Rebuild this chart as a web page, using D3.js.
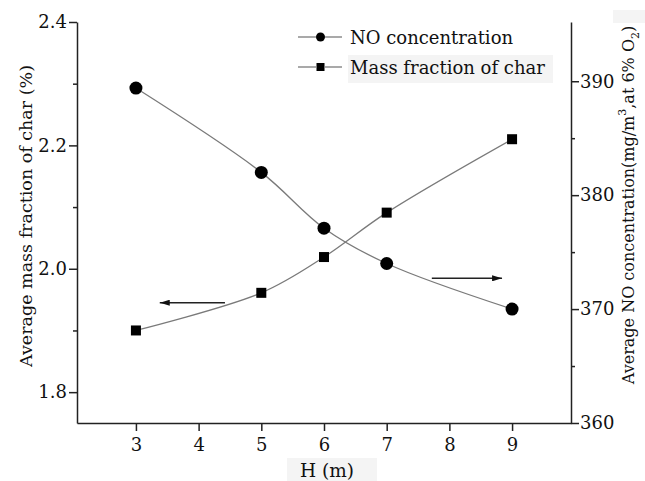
<!DOCTYPE html>
<html lang="en">
<head>
    <meta charset="UTF-8">
    <title>NO concentration and char vs H</title>
    <script src="https://d3js.org/d3.v7.min.js"></script>
    <style>
        body {
            margin: 0;
            background: #fff;
        }
        .axis path,
        .axis line {
            fill: none;
            stroke: #222;
            stroke-width: 1.5px;
        }
        .axis text {
            font-size: 18px;
            fill: #111;
        }
        .title {
            font-size: 17.5px;
            fill: #111;
        }
    </style>
</head>
<body>
<svg id="chart"></svg>

<script>
    // values
    const heights = [3, 5, 6, 7, 9];
    const noConc = [389.4, 382.0, 377.1, 374.0, 370.0];       // right axis
    const charFrac = [1.900, 1.961, 2.019, 2.091, 2.210];     // left axis
    const xTicks = [3, 4, 5, 6, 7, 8, 9];
    const leftTicks = [1.8, 2.0, 2.2, 2.4];
    const leftMinor = [1.9, 2.1, 2.3];
    const rightTicks = [360, 370, 380, 390];
    const rightMinor = [365, 375, 385];
    // arrows pointing to the axis each curve belongs to: [x from, x to, y]
    const charArrow = [4.42, 3.38, 1.945];
    const noArrow = [7.72, 8.84, 372.7];

    const W = 645, H = 481;
    const margin = { top: 22, right: 74, bottom: 58, left: 77 };
    const width = W - margin.left - margin.right;
    const height = H - margin.top - margin.bottom;
    const serif = '"DejaVu Serif", "Liberation Serif", "Times New Roman", serif';

    const svg = d3.select("#chart")
        .attr("width", W)
        .attr("height", H)
        .style("font-family", serif);

    const defs = svg.append("defs");
    defs.append("marker")
        .attr("id", "head")
        .attr("viewBox", "0 0 10 6")
        .attr("refX", 10)
        .attr("refY", 3)
        .attr("markerWidth", 10)
        .attr("markerHeight", 6)
        .attr("markerUnits", "userSpaceOnUse")
        .attr("orient", "auto")
        .append("path")
        .attr("d", "M0,0 L10,3 L0,6 Z")
        .attr("fill", "#111");

    // faint scan patches of the original figure
    svg.append("rect").attr("x", 348).attr("y", 55).attr("width", 205).attr("height", 28).attr("fill", "#f4f4f4");
    svg.append("rect").attr("x", 613).attr("y", 10).attr("width", 32).attr("height", 13).attr("fill", "#f4f4f4");
    svg.append("rect").attr("x", 287).attr("y", 458).attr("width", 90).attr("height", 23).attr("fill", "#f4f4f4");

    const g = svg.append("g")
        .attr("transform", `translate(${margin.left},${margin.top})`);

    const x = d3.scaleLinear().domain([2.06, 9.94]).range([0, width]);
    const yL = d3.scaleLinear().domain([1.75, 2.4]).range([height, 0]);
    const yR = d3.scaleLinear().domain([360, 395.2]).range([height, 0]);

    // axes
    g.append("g")
        .attr("class", "axis")
        .attr("transform", `translate(0,${height})`)
        .call(d3.axisBottom(x).tickValues(xTicks).tickFormat(d3.format("d")).tickSize(8).tickSizeOuter(0).tickPadding(7));

    g.append("g")
        .attr("class", "axis")
        .call(d3.axisLeft(yL).tickValues(leftTicks).tickFormat(d3.format(".1f")).tickSize(8).tickSizeOuter(0).tickPadding(2));
    g.append("g")
        .attr("class", "axis")
        .call(d3.axisLeft(yL).tickValues(leftMinor).tickFormat("").tickSize(4).tickSizeOuter(0))
        .select(".domain").remove();

    g.append("g")
        .attr("class", "axis")
        .attr("transform", `translate(${width},0)`)
        .call(d3.axisRight(yR).tickValues(rightTicks).tickFormat(d3.format("d")).tickSize(8).tickSizeOuter(0).tickPadding(1));
    g.append("g")
        .attr("class", "axis")
        .attr("transform", `translate(${width},0)`)
        .call(d3.axisRight(yR).tickValues(rightMinor).tickFormat("").tickSize(4).tickSizeOuter(0))
        .select(".domain").remove();

    g.selectAll(".axis").attr("font-family", serif);

    // curves
    const noData = heights.map((h, i) => ({ h: h, v: noConc[i] }));
    const charData = heights.map((h, i) => ({ h: h, v: charFrac[i] }));

    g.append("path")
        .datum(noData)
        .attr("fill", "none")
        .attr("stroke", "#7a7a7a")
        .attr("stroke-width", 1.3)
        .attr("d", d3.line().x(d => x(d.h)).y(d => yR(d.v)).curve(d3.curveCatmullRom.alpha(0.5)));

    g.append("path")
        .datum(charData)
        .attr("fill", "none")
        .attr("stroke", "#7a7a7a")
        .attr("stroke-width", 1.3)
        .attr("d", d3.line().x(d => x(d.h)).y(d => yL(d.v)).curve(d3.curveCatmullRom.alpha(0.5)));

    g.selectAll(".no-pt")
        .data(noData)
        .enter().append("circle")
        .attr("class", "no-pt")
        .attr("cx", d => x(d.h))
        .attr("cy", d => yR(d.v))
        .attr("r", 6.5)
        .attr("fill", "#000");

    g.selectAll(".char-pt")
        .data(charData)
        .enter().append("rect")
        .attr("class", "char-pt")
        .attr("x", d => x(d.h) - 5)
        .attr("y", d => yL(d.v) - 5)
        .attr("width", 10)
        .attr("height", 10)
        .attr("fill", "#000");

    // arrows
    g.append("line")
        .attr("x1", x(charArrow[0])).attr("x2", x(charArrow[1]))
        .attr("y1", yL(charArrow[2])).attr("y2", yL(charArrow[2]))
        .attr("stroke", "#222").attr("stroke-width", 1.5)
        .attr("marker-end", "url(#head)");
    g.append("line")
        .attr("x1", x(noArrow[0])).attr("x2", x(noArrow[1]))
        .attr("y1", yR(noArrow[2])).attr("y2", yR(noArrow[2]))
        .attr("stroke", "#222").attr("stroke-width", 1.5)
        .attr("marker-end", "url(#head)");

    // legend
    const legend = svg.append("g").attr("transform", "translate(298,0)");
    [["NO concentration", 37, "circle"], ["Mass fraction of char", 67, "square"]].forEach(([label, ly, shape]) => {
        legend.append("line").attr("x1", 0).attr("x2", 18).attr("y1", ly).attr("y2", ly).attr("stroke", "#7a7a7a").attr("stroke-width", 1.3);
        legend.append("line").attr("x1", 27).attr("x2", 44).attr("y1", ly).attr("y2", ly).attr("stroke", "#7a7a7a").attr("stroke-width", 1.3);
        if (shape === "circle") {
            legend.append("circle").attr("cx", 22.5).attr("cy", ly).attr("r", 4.5).attr("fill", "#000");
        } else {
            legend.append("rect").attr("x", 18.5).attr("y", ly - 4).attr("width", 8).attr("height", 8).attr("fill", "#000");
        }
        legend.append("text")
            .attr("x", 52)
            .attr("y", ly + 7)
            .style("font-size", "18px")
            .attr("fill", "#111")
            .text(label);
    });

    // axis titles
    svg.append("text")
        .attr("class", "title")
        .attr("text-anchor", "middle")
        .style("font-size", "18.5px")
        .attr("x", 327)
        .attr("y", 477)
        .text("H (m)");

    svg.append("text")
        .attr("class", "title")
        .attr("text-anchor", "middle")
        .attr("transform", "translate(32,216) rotate(-90)")
        .text("Average mass fraction of char (%)");

    const rt = svg.append("text")
        .attr("class", "title")
        .attr("text-anchor", "middle")
        .style("font-size", "16px")
        .attr("transform", "translate(634,205) rotate(-90)");
    rt.append("tspan").text("Average NO concentration(mg/m");
    rt.append("tspan").attr("dy", -8).style("font-size", "11px").text("3");
    rt.append("tspan").attr("dy", 8).text(",at 6% O");
    rt.append("tspan").attr("dy", 5).style("font-size", "11px").text("2");
    rt.append("tspan").attr("dy", -5).text(")");
</script>
</body>
</html>
